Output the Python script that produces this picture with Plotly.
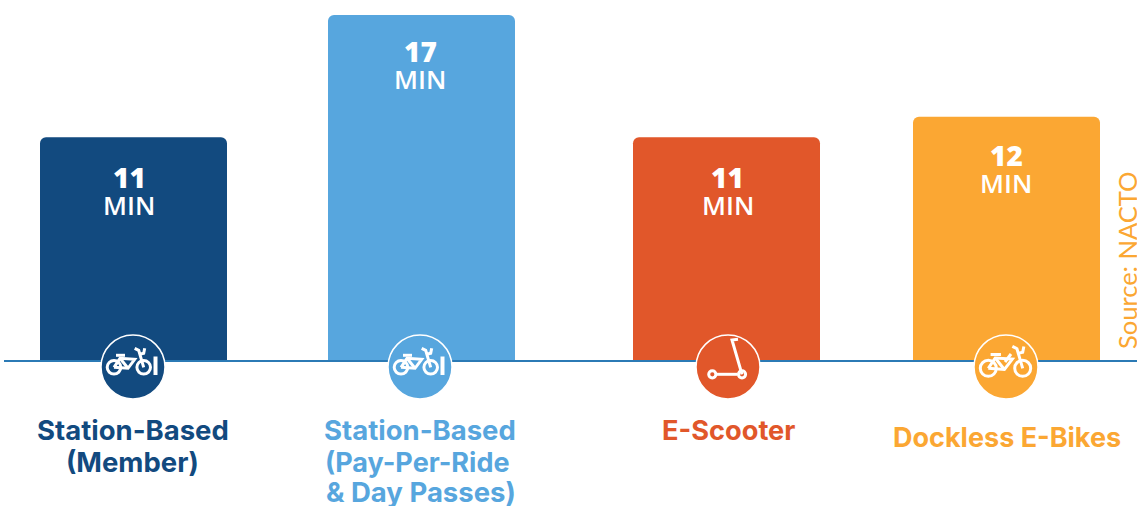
import plotly.graph_objects as go

# Data
categories = ["Station-Based (Member)", "Station-Based (Pay-Per-Ride & Day Passes)", "E-Scooter", "Dockless E-Bikes"]
minutes = [11, 17, 11, 12]
unit = "MIN"
label_lines = [["Station-Based", "(Member)"], ["Station-Based", "(Pay-Per-Ride", "& Day Passes)"], ["E-Scooter"], ["Dockless E-Bikes"]]
source = "Source: NACTO"

# Layout and style
W, H = 1137, 506
BASE_PX = 361
PX_PER_MIN = 20.35
bar_centers = [133.5, 421.5, 726.5, 1006.5]
icon_centers = [133, 420, 728, 1006]
text_centers = [129, 420, 727.5, 1006]
number_offsets = [-40, -36, -40, -38]
unit_offsets = [-68, -64, -68, -66]
label_x = [[132.5, 132.5], [420, 417.5, 420.5], [728], [1006.5]]
label_y_px = [[430, 462], [430, 462, 492], [430], [437]]
label_sizes = [[27.5, 27.5], [27.5, 27, 27.5], [27.2], [27]]
colors = ["#124A7F", "#57A6DE", "#E1572A", "#FBA733"]
AXIS = "#2B7AB5"
BAR_W = 187


def y_shift(px):
    return BASE_PX - px


def arc(cx, cy, r):
    k = 0.5523 * r
    return (f"M{cx-r},{-cy} C{cx-r},{-cy+k} {cx-k},{-cy+r} {cx},{-cy+r} "
            f"C{cx+k},{-cy+r} {cx+r},{-cy+k} {cx+r},{-cy} "
            f"C{cx+r},{-cy-k} {cx+k},{-cy-r} {cx},{-cy-r} "
            f"C{cx-k},{-cy-r} {cx-r},{-cy-k} {cx-r},{-cy} Z")


def poly(pts):
    return "M" + " L".join(f"{x},{-y}" for x, y in pts)


def bike(lx, rx, wy, r, scale=1.0):
    """Commuter bike outline in pixels relative to the badge centre."""
    s = scale
    return [
        arc(lx, wy, r), arc(rx, wy, r),
        poly([(lx, wy), (lx + 6*s, wy - 9*s), (rx - 9*s, wy - 8*s), (lx + 14*s, wy + 1*s), (lx, wy)]),
        poly([(lx + 6*s, wy - 9*s), (lx + 14*s, wy + 1*s)]),
        poly([(rx, wy), (rx - 5*s, wy - 17*s), (rx - 9*s, wy - 19*s)]),
        poly([(rx - 4*s, wy - 13*s), (rx + 0*s, wy - 14*s), (rx + 1*s, wy - 19*s)]),
        poly([(lx + 2*s, wy - 12*s), (lx + 11*s, wy - 12*s)]),
    ]


icon_paths = [
    (bike(-19, 10.7, 6.3, 6.8), [(22.5, -4.5), (22.5, 14)], 4),
    (bike(-19, 10.7, 6.3, 6.8), [(22.5, -4.5), (22.5, 14)], 4),
    ([arc(-15.7, 13.3, 3.6), arc(14, 13.3, 3.6),
      poly([(-12, 13.3), (9, 13.3)]), poly([(14, 13.3), (4, -21), (10, -21.7)])], None, 0),
    (bike(-17.7, 16.7, 7.3, 8, 1.15) + [poly([(-1, 1), (5, -7)])], None, 0),
]

fig = go.Figure(go.Bar(
    x=bar_centers, y=minutes, width=BAR_W, marker_color=colors,
    marker_line_width=0, showlegend=False, hoverinfo="skip",
))

shapes = [dict(type="line", xref="x", yref="y", x0=4, x1=W, y0=0, y1=0,
               line=dict(color=AXIS, width=2), layer="above")]
for cx, col, (paths, bar, bar_w) in zip(icon_centers, colors, icon_paths):
    shapes.append(dict(type="path", xref="x", yref="y", xsizemode="pixel", ysizemode="pixel",
                       xanchor=cx, yanchor=0,
                       path=arc(0, 6, 32), fillcolor=col, line=dict(color="white", width=1.5), layer="above"))
    for p in paths:
        shapes.append(dict(type="path", xref="x", yref="y", xsizemode="pixel", ysizemode="pixel",
                           xanchor=cx, yanchor=0, path=p,
                           line=dict(color="white", width=3), layer="above"))
    if bar:
        shapes.append(dict(type="path", xref="x", yref="y", xsizemode="pixel", ysizemode="pixel",
                           xanchor=cx, yanchor=0, path=poly(bar),
                           line=dict(color="white", width=bar_w), layer="above"))

ann = []
for cx, v, n_off, u_off in zip(text_centers, minutes, number_offsets, unit_offsets):
    ann.append(dict(x=cx, y=v, xref="x", yref="y", text=str(v), showarrow=False,
                    yshift=n_off, font=dict(family="Open Sans", size=28, color="white", weight=800)))
    ann.append(dict(x=cx, y=v, xref="x", yref="y", text=unit, showarrow=False,
                    yshift=u_off, font=dict(family="Open Sans", size=26, color="white", weight=600)))
for col, xs, lines, ys, sizes in zip(colors, label_x, label_lines, label_y_px, label_sizes):
    for cx, line, py, size in zip(xs, lines, ys, sizes):
        ann.append(dict(x=cx, y=0, xref="x", yref="y", text=f"<b>{line}</b>", showarrow=False,
                        yshift=y_shift(py), font=dict(family="Inter", size=size, color=col)))
ann.append(dict(x=1127, y=0, xref="x", yref="y", text=source, textangle=-90, showarrow=False,
                yanchor="middle", yshift=100, font=dict(family="Lato", size=25.5, color=colors[3], weight=400)))

fig.update_layout(
    width=W, height=H, margin=dict(l=0, r=0, t=0, b=0),
    paper_bgcolor="white", plot_bgcolor="white",
    barcornerradius=6, shapes=shapes, annotations=ann,
    xaxis=dict(range=[0, W], visible=False, fixedrange=True),
    yaxis=dict(range=[-(H - BASE_PX) / PX_PER_MIN, BASE_PX / PX_PER_MIN], visible=False, fixedrange=True),
)
fig.write_html("out.html", config={"displayModeBar": False},
               post_script="document.body.style.margin='0';document.body.style.overflow='hidden';")
